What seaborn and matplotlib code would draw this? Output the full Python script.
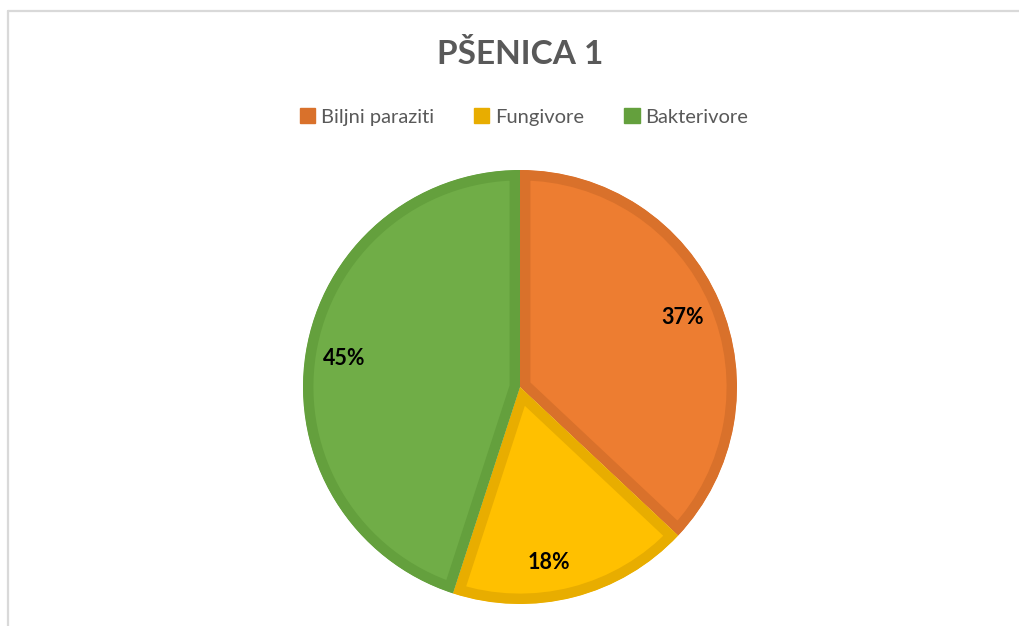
import numpy as np
import matplotlib
matplotlib.use("Agg")
import matplotlib.pyplot as plt
from matplotlib.lines import Line2D
from matplotlib.patches import Patch
import seaborn as sns

# Data
title = "PŠENICA 1"
categories = ["Biljni paraziti", "Fungivore", "Bakterivore"]
values = [37, 18, 45]
labels = ["37%", "18%", "45%"]

fill_colors = ["#ED7D31", "#FFC000", "#70AD47"]
edge_colors = ["#D9712B", "#E8AD00", "#64A03D"]

sns.set_theme(style="white")
plt.rcParams["font.family"] = ["Lato", "DejaVu Sans"]

W, H = 1019, 626
fig = plt.figure(figsize=(W / 100, H / 100), dpi=100)
fig.patch.set_facecolor("white")

R = 217
cx, cy = 520, H - 387
ax = fig.add_axes([(cx - R) / W, (cy - R) / H, 2 * R / W, 2 * R / H])

wedges, _ = ax.pie(values, colors=fill_colors, startangle=90, counterclock=False,
                   radius=1, wedgeprops=dict(linewidth=15, joinstyle="miter"))
for w, ec in zip(wedges, edge_colors):
    w.set_edgecolor(ec)
    w.set_clip_on(True)
    w.set_clip_path(w)

ax.set_xlim(-1, 1)
ax.set_ylim(-1, 1)
ax.set_aspect("equal")
ax.axis("off")

# label angles (degrees); 45% placed at left as in reference
label_pos = [(23.0, 0.815), (-80.6, 0.82), (170.7, 0.82)]
for lab, (ang, d) in zip(labels, label_pos):
    a = np.deg2rad(ang)
    ax.text(d * np.cos(a), d * np.sin(a), lab, ha="center", va="center",
            fontsize=15.5, fontweight="bold", color="black")

fig.text(cx / W, 1 - 54 / H, title, ha="center", va="center",
         fontsize=24, fontweight="bold", color="#595959")

handles = [Patch(facecolor=c, edgecolor=c) for c in edge_colors]
fig.legend(handles, categories, loc="center", bbox_to_anchor=(524 / W, 1 - 117 / H),
           ncol=3, frameon=False, fontsize=14.5, labelcolor="#595959",
           handlelength=0.75, handleheight=0.75, handletextpad=0.3, columnspacing=2.0)

# chart frame
fig.add_artist(Line2D([7.5 / W, 1], [1 - 10.5 / H, 1 - 10.5 / H], color="#D9D9D9", lw=1.6,
                      transform=fig.transFigure))
fig.add_artist(Line2D([7.5 / W, 7.5 / W], [0, 1 - 10.5 / H], color="#D9D9D9", lw=1.6,
                      transform=fig.transFigure))

fig.savefig("out.png", dpi=100)
